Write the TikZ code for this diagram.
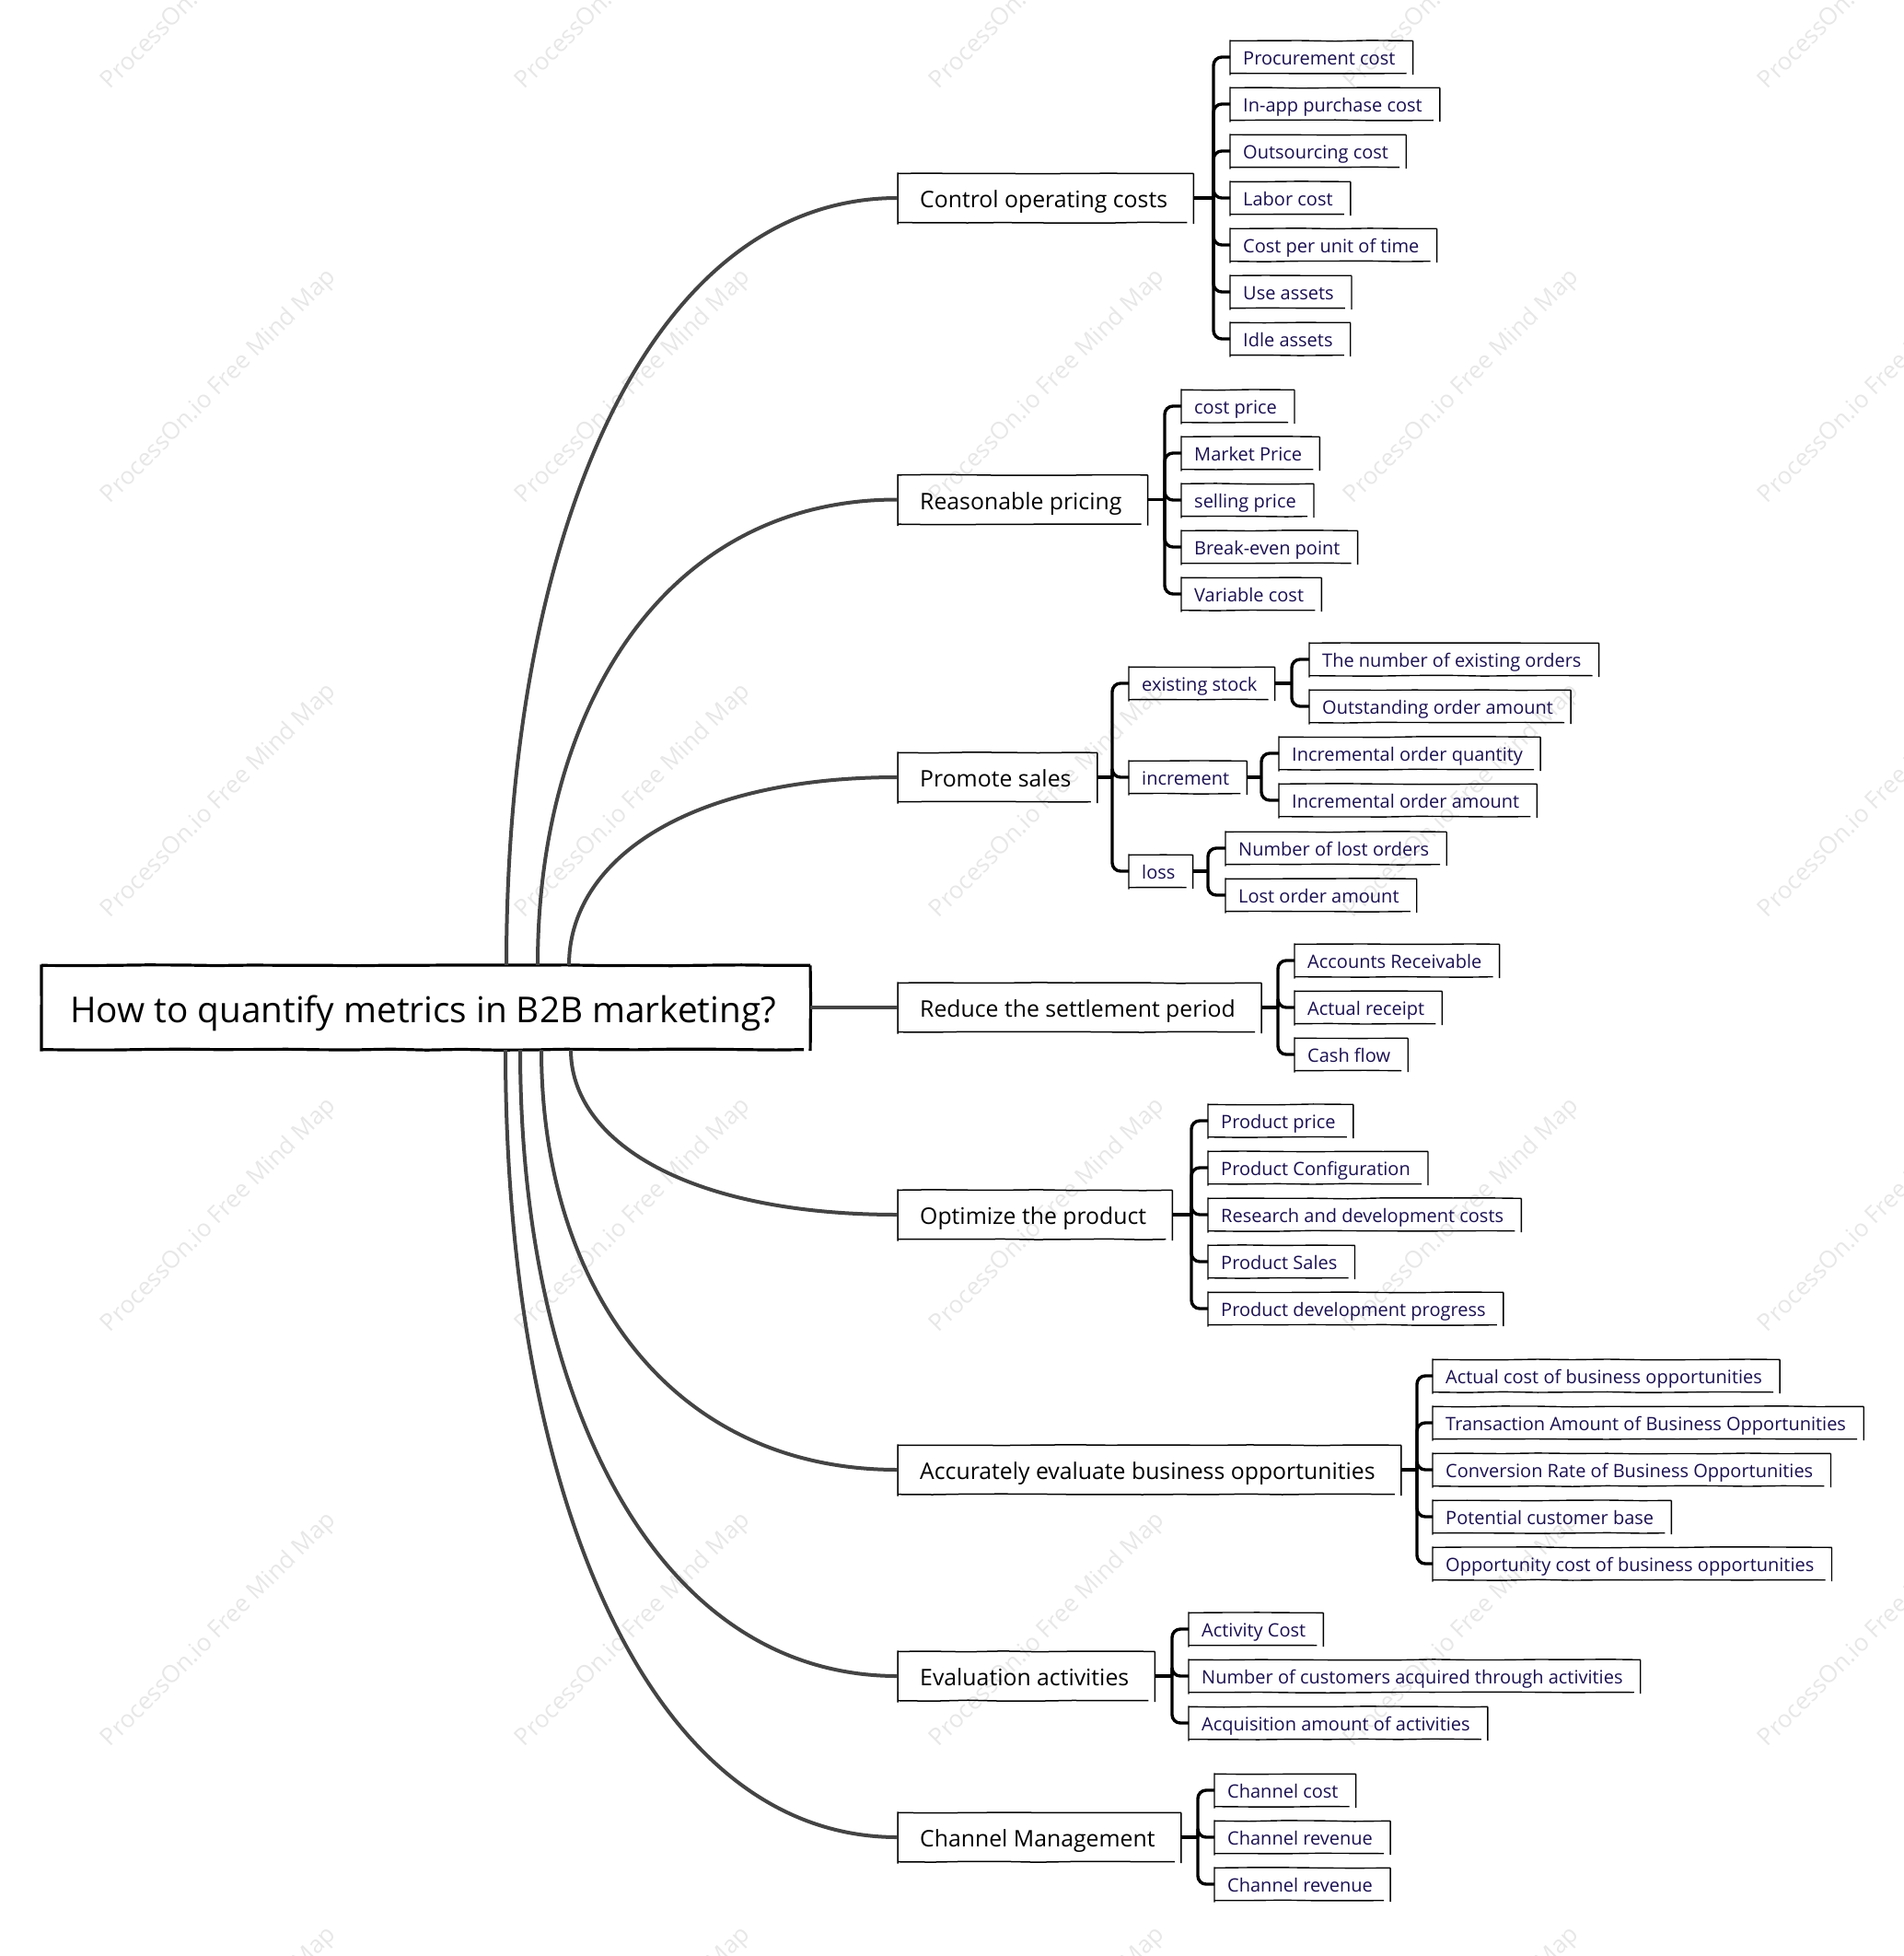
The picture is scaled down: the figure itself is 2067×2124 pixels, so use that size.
\documentclass[tikz,border=0pt]{standalone}
\usepackage{fontspec}
\setmainfont{Open Sans}
\usetikzlibrary{decorations.pathmorphing}

\definecolor{limbgray}{HTML}{444444}
\definecolor{leafink}{HTML}{1A1050}
\definecolor{markgray}{HTML}{E7E7E7}

\tikzset{
    sketch/.style={
        append after command={\pgfextra{
            \draw[line width=#1, decorate, decoration={random steps, segment length=38pt, amplitude=0.5pt}]
                ([yshift=1pt]\tikzlastnode.north west) -- ([yshift=-2pt]\tikzlastnode.south west)
                (\tikzlastnode.north west) -- (\tikzlastnode.north east)
                (\tikzlastnode.north east) -- ([yshift=-1.5pt]\tikzlastnode.south east)
                (\tikzlastnode.south west) -- ([xshift=-7pt]\tikzlastnode.south east);
        }}
    },
    rootbox/.style={anchor=west, inner xsep=31pt, inner ysep=0pt, minimum height=91pt,
        text height=33pt, text depth=1pt, font=\fontsize{38.7}{42}\selectfont,
        execute at end node={\hspace{6pt}}, sketch=3.2pt},
    topicbox/.style={anchor=west, inner xsep=24pt, inner ysep=0pt, minimum height=53pt,
        text height=24pt, text depth=3pt, font=\fontsize{24.8}{30}\selectfont, text=black,
        execute at end node={\hspace{4pt}}, sketch=1.5pt},
    leafbox/.style={anchor=west, inner xsep=14pt, inner ysep=0pt, minimum height=35pt,
        text height=19pt, text depth=1.5pt, font=\fontsize{20}{24}\selectfont, text=leafink,
        execute at end node={\hspace{5pt}}, sketch=1.4pt},
    limb/.style={draw=limbgray, line width=4pt},
    twig/.style={draw=black, line width=3.4pt, rounded corners=9pt},
    watermark/.style={text=markgray, rotate=45, font=\fontsize{26}{30}\selectfont}
}

\begin{document}
\begin{tikzpicture}[x=1pt, y=-1pt]
    \useasboundingbox (0,0) rectangle (2067,2124);
    \pgfmathsetseed{7}

    % watermark grid
    \foreach \i in {0,...,4}
        \foreach \j in {0,...,5}
            \node[watermark] (mark-\i-\j) at (238+450*\i, -30+450*\j) {ProcessOn.io Free Mind Map};

    \node[rootbox] (root) at (45,1094) {How to quantify metrics in B2B marketing?};

    % topics
    \node[topicbox] (ctrl) at (975,215) {Control operating costs};
    \node[topicbox] (pricing) at (975,542.5) {Reasonable pricing};
    \node[topicbox] (sales) at (975,844) {Promote sales};
    \node[topicbox] (settle) at (975,1094) {Reduce the settlement period};
    \node[topicbox] (product) at (975,1319) {Optimize the product};
    \node[topicbox] (oppty) at (975,1596) {Accurately evaluate business opportunities};
    \node[topicbox] (events) at (975,1820) {Evaluation activities};
    \node[topicbox] (channel) at (975,1995) {Channel Management};

    % operating costs
    \node[leafbox] (ctrl1) at (1336,62) {Procurement cost};
    \node[leafbox] (ctrl2) at (1336,113) {In-app purchase cost};
    \node[leafbox] (ctrl3) at (1336,164) {Outsourcing cost};
    \node[leafbox] (ctrl4) at (1336,215) {Labor cost};
    \node[leafbox] (ctrl5) at (1336,266) {Cost per unit of time};
    \node[leafbox] (ctrl6) at (1336,317) {Use assets};
    \node[leafbox] (ctrl7) at (1336,368) {Idle assets};

    % pricing
    \node[leafbox] (pricing1) at (1283,441) {cost price};
    \node[leafbox] (pricing2) at (1283,492) {Market Price};
    \node[leafbox] (pricing3) at (1283,543) {selling price};
    \node[leafbox] (pricing4) at (1283,594) {Break-even point};
    \node[leafbox] (pricing5) at (1283,645) {Variable cost};

    % sales, two levels
    \node[leafbox] (stock) at (1226,742) {existing stock};
    \node[leafbox] (incr) at (1226,844) {increment};
    \node[leafbox] (loss) at (1226,946) {loss};
    \node[leafbox] (stock1) at (1422,716) {The number of existing orders};
    \node[leafbox] (stock2) at (1422,767) {Outstanding order amount};
    \node[leafbox] (incr1) at (1389,818) {Incremental order quantity};
    \node[leafbox] (incr2) at (1389,869) {Incremental order amount};
    \node[leafbox] (loss1) at (1331,921) {Number of lost orders};
    \node[leafbox] (loss2) at (1331,972) {Lost order amount};

    % settlement
    \node[leafbox] (settle1) at (1406,1043) {Accounts Receivable};
    \node[leafbox] (settle2) at (1406,1094) {Actual receipt};
    \node[leafbox] (settle3) at (1406,1145) {Cash flow};

    % product
    \node[leafbox] (product1) at (1312,1217) {Product price};
    \node[leafbox] (product2) at (1312,1268) {Product Configuration};
    \node[leafbox] (product3) at (1312,1319) {Research and development costs};
    \node[leafbox] (product4) at (1312,1370) {Product Sales};
    \node[leafbox] (product5) at (1312,1421) {Product development progress};

    % opportunities
    \node[leafbox] (oppty1) at (1556,1494) {Actual cost of business opportunities};
    \node[leafbox] (oppty2) at (1556,1545) {Transaction Amount of Business Opportunities};
    \node[leafbox] (oppty3) at (1556,1596) {Conversion Rate of Business Opportunities};
    \node[leafbox] (oppty4) at (1556,1647) {Potential customer base};
    \node[leafbox] (oppty5) at (1556,1698) {Opportunity cost of business opportunities};

    % activities
    \node[leafbox] (events1) at (1291,1769) {Activity Cost};
    \node[leafbox] (events2) at (1291,1820) {Number of customers acquired through activities};
    \node[leafbox] (events3) at (1291,1871) {Acquisition amount of activities};

    % channels
    \node[leafbox] (channel1) at (1319,1944) {Channel cost};
    \node[leafbox] (channel2) at (1319,1995) {Channel revenue};
    \node[leafbox] (channel3) at (1319,2046) {Channel revenue};

    % where the limbs leave the root
    \coordinate (outA) at (550,1048);
    \coordinate (outB) at (584,1048);
    \coordinate (outC) at (618,1048);
    \coordinate (outD) at (620,1140);
    \coordinate (outE) at (588,1140);
    \coordinate (outF) at (565,1140);
    \coordinate (outG) at (549,1140);

    \draw[limb] (outA) .. controls (550,590) and (699,215) .. (ctrl.west);
    \draw[limb] (outB) .. controls (584,770) and (721,542) .. (pricing.west);
    \draw[limb] (outC) .. controls (618,936) and (743,844) .. (sales.west);
    \draw[limb] (root.east) -- (settle.west);
    \draw[limb] (outD) .. controls (620,1238) and (744,1319) .. (product.west);
    \draw[limb] (outE) .. controls (588,1391) and (723,1596) .. (oppty.west);
    \draw[limb] (outF) .. controls (565,1514) and (708,1820) .. (events.west);
    \draw[limb] (outG) .. controls (549,1610) and (698,1995) .. (channel.west);

    % stems next to each parent
    \coordinate (ctrlJ) at (1318,215);
    \coordinate (pricingJ) at (1265,542.5);
    \coordinate (salesJ) at (1208,844);
    \coordinate (stockJ) at (1403,742);
    \coordinate (incrJ) at (1370,844);
    \coordinate (lossJ) at (1312,946);
    \coordinate (settleJ) at (1388,1094);
    \coordinate (productJ) at (1294,1319);
    \coordinate (opptyJ) at (1539,1596);
    \coordinate (eventsJ) at (1273,1820);
    \coordinate (channelJ) at (1301,1995);

    \foreach \n in {ctrl,pricing,sales,stock,incr,loss,settle,product,oppty,events,channel}
        \draw[twig] (\n.east) -- (\n J);

    \foreach \n in {1,...,7}
        \draw[twig] (ctrlJ) |- (ctrl\n.west);
    \foreach \n in {1,...,5}
        \draw[twig] (pricingJ) |- (pricing\n.west);
    \foreach \n in {stock,incr,loss}
        \draw[twig] (salesJ) |- (\n.west);
    \foreach \n in {1,2} {
        \draw[twig] (stockJ) |- (stock\n.west);
        \draw[twig] (incrJ) |- (incr\n.west);
        \draw[twig] (lossJ) |- (loss\n.west);
    }
    \foreach \n in {1,2,3}
        \draw[twig] (settleJ) |- (settle\n.west);
    \foreach \n in {1,...,5} {
        \draw[twig] (productJ) |- (product\n.west);
        \draw[twig] (opptyJ) |- (oppty\n.west);
    }
    \foreach \n in {1,2,3} {
        \draw[twig] (eventsJ) |- (events\n.west);
        \draw[twig] (channelJ) |- (channel\n.west);
    }
\end{tikzpicture}
\end{document}
